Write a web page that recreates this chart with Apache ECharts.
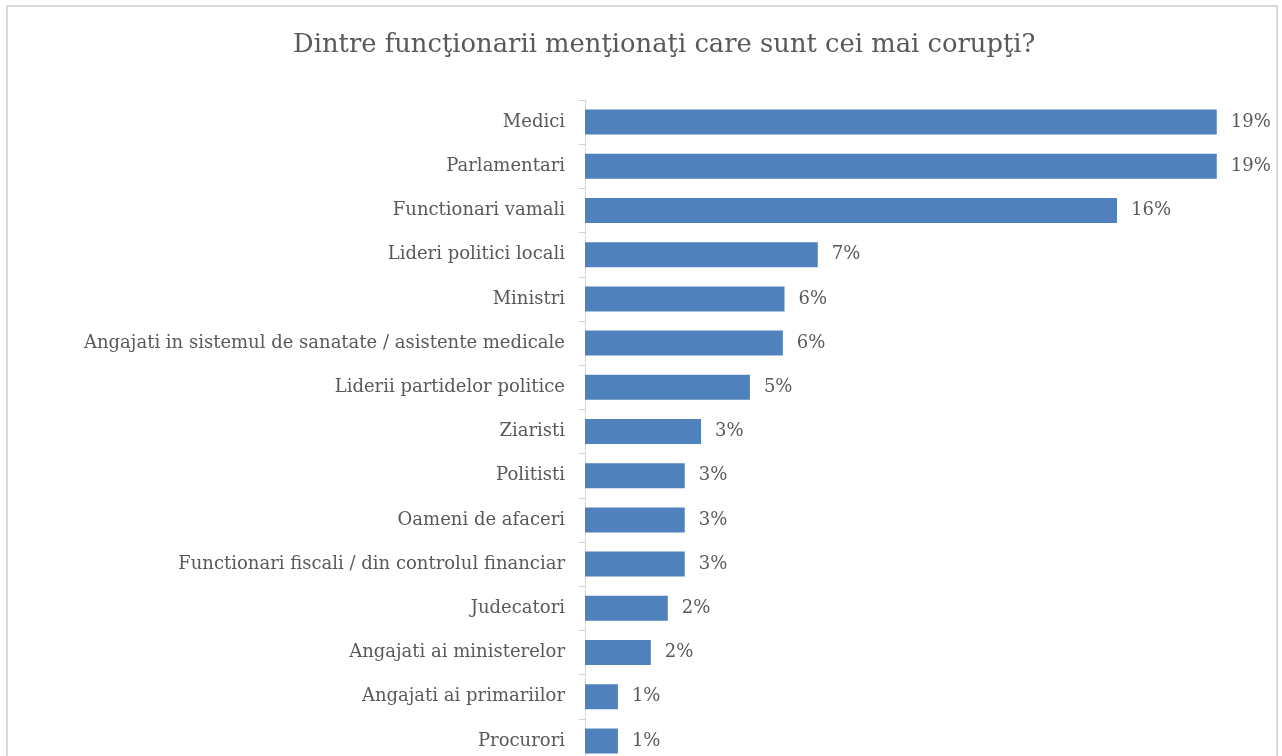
<!DOCTYPE html>
<html><head><meta charset="utf-8">
<script src="https://cdn.jsdelivr.net/npm/echarts@6/dist/echarts.min.js"></script>
<style>html,body{margin:0;padding:0;background:#fff;overflow:hidden}#c{width:1282px;height:800px}</style>
</head><body><div id="c"></div>
<script>
const titleText = 'Dintre funcţionarii menţionaţi care sunt cei mai corupţi?';
const categories = ['Medici','Parlamentari','Functionari vamali','Lideri politici locali','Ministri','Angajati in sistemul de sanatate / asistente medicale','Liderii partidelor politice','Ziaristi','Politisti','Oameni de afaceri','Functionari fiscali / din controlul financiar','Judecatori','Angajati ai ministerelor','Angajati ai primariilor','Procurori'];
const values = [19, 19, 16, 7, 6, 5.95, 4.96, 3.49, 3.0, 3.0, 3.0, 2.49, 1.98, 0.99, 0.99];

const chart = echarts.init(document.getElementById('c'), null, {renderer:'canvas'});
const font = 'DejaVu Serif';
chart.setOption({
  animation: false,
  backgroundColor: '#fff',
  textStyle: {fontFamily: font},
  graphic: [{type:'rect', shape:{x:7, y:6, width:1270, height:850}, style:{fill:'none', stroke:'#d9d9d9', lineWidth:2}, z:-1}],
  title: {text: titleText, left: 288, top: 27, textStyle:{fontFamily: font, fontSize: 25.8, fontWeight:'normal', color:'#595959'}},
  grid: {left: 585, top: 100, width: 665, height: 663, containLabel: false},
  xAxis: {type:'value', min:0, max:20, show:false},
  yAxis: {type:'category', inverse:true, data: categories,
    axisLine:{show:true, lineStyle:{color:'#d9d9d9', width:1}},
    axisTick:{show:true, length:6, lineStyle:{color:'#d0d0d0'}},
    axisLabel:{margin:20, fontSize:18, color:'#595959', fontFamily: font}},
  series: [{type:'bar', data: values, barWidth: 25,
    itemStyle:{color:'#4f81bd'},
    label:{show:true, position:'right', distance:14, fontSize:18, color:'#595959', fontFamily: font,
      formatter: p => Math.round(p.value) + '%'}}]
});
</script></body></html>
